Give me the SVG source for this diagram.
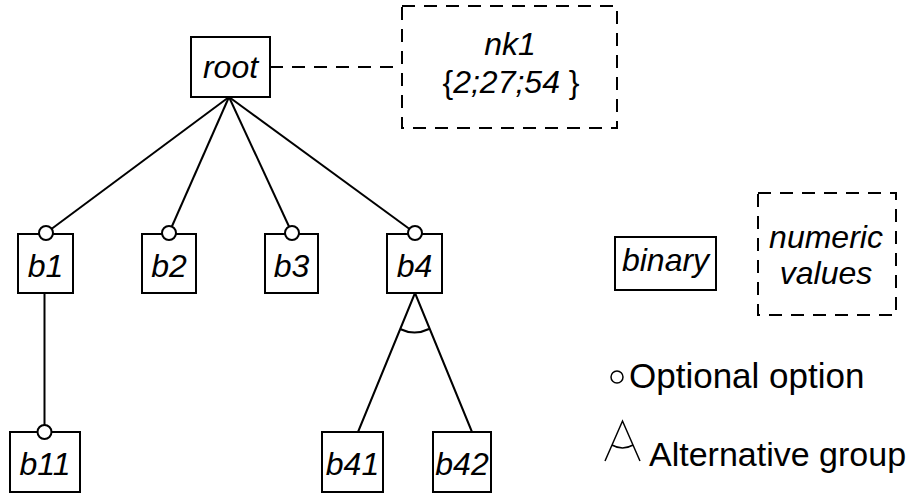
<svg xmlns="http://www.w3.org/2000/svg" width="907" height="495" viewBox="0 0 907 495">
<style>
.box{fill:#fff;stroke:#000;stroke-width:2}
.dbox{fill:none;stroke:#000;stroke-width:2;stroke-dasharray:13 9}
.ln{fill:none;stroke:#000;stroke-width:2}
.opt{fill:#fff;stroke:#000;stroke-width:2}
.t{font-family:"Liberation Sans",Arial,sans-serif;font-style:italic;font-size:32px;text-anchor:middle;fill:#000}
.u{font-family:"Liberation Sans",Arial,sans-serif;font-size:35px;fill:#000}
.n{font-style:normal}
</style>
<rect width="907" height="495" fill="#fff"/>
<g id="connectors">
<line class="ln" x1="229" y1="97" x2="46" y2="233"/>
<line class="ln" x1="229" y1="97" x2="169" y2="233"/>
<line class="ln" x1="229" y1="97" x2="292" y2="233"/>
<line class="ln" x1="229" y1="97" x2="415" y2="233"/>
<line class="ln" x1="44.5" y1="293" x2="44.5" y2="432"/>
<path class="ln" d="M415 293 L358 432 M415 293 L472 432"/>
<path class="ln" d="M400 329 Q414.5 336 429 329"/>
<line class="dbox" x1="270" y1="67" x2="400" y2="67"/>
</g>
<g id="root"><rect class="box" x="191" y="37" width="79" height="60"/><text class="t" x="230.5" y="78">root</text></g>
<g id="nk1"><rect class="dbox" x="402" y="6" width="215" height="122"/><text class="t" x="510" y="55">nk1</text><text class="t" x="511" y="93"><tspan class="n">{</tspan>2;27;54 <tspan class="n">}</tspan></text></g>
<g id="b1"><rect class="box" x="18" y="234" width="55" height="59"/><text class="t" x="45.5" y="277">b1</text><circle class="opt" cx="46" cy="233" r="7"/></g>
<g id="b2"><rect class="box" x="142" y="234" width="54" height="59"/><text class="t" x="169" y="277">b2</text><circle class="opt" cx="169" cy="233" r="7"/></g>
<g id="b3"><rect class="box" x="265" y="234" width="53" height="59"/><text class="t" x="291.5" y="277">b3</text><circle class="opt" cx="292" cy="233" r="7"/></g>
<g id="b4"><rect class="box" x="387" y="234" width="55" height="59"/><text class="t" x="414.5" y="277">b4</text><circle class="opt" cx="415" cy="233" r="7"/></g>
<g id="b11"><rect class="box" x="10" y="432" width="70" height="60"/><text class="t" x="45" y="475">b11</text><circle class="opt" cx="44.5" cy="432" r="7"/></g>
<g id="b41"><rect class="box" x="322" y="432" width="61" height="60"/><text class="t" x="352.5" y="475">b41</text></g>
<g id="b42"><rect class="box" x="433" y="432" width="58" height="60"/><text class="t" x="462" y="475">b42</text></g>
<g id="legend">
<rect class="box" x="615" y="237" width="101" height="53"/><text class="t" x="665.5" y="271">binary</text>
<rect class="dbox" x="758" y="193" width="138" height="122"/><text class="t" x="826" y="248">numeric</text><text class="t" x="826" y="284">values</text>
<circle class="opt" cx="617" cy="377" r="6" style="stroke-width:1.5"/><text class="u" x="629" y="388">Optional option</text>
<path class="ln" d="M605 461 L622.5 421 L640 461 M612 445 Q622.5 451 633 445" style="stroke-width:1.5"/><text class="u" x="649" y="466" style="font-size:34px">Alternative group</text>
</g>
</svg>
